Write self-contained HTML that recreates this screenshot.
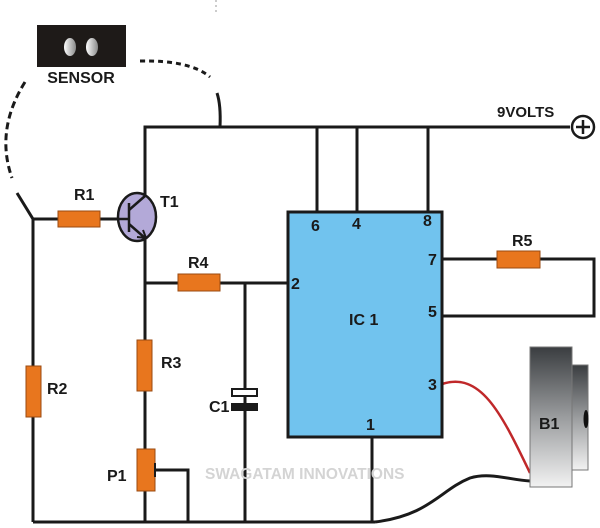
<!DOCTYPE html>
<html><head><meta charset="utf-8"><style>html,body{margin:0;padding:0;background:#fff}svg{display:block}</style></head>
<body>
<svg width="600" height="528" viewBox="0 0 600 528" xmlns="http://www.w3.org/2000/svg" font-family="Liberation Sans, sans-serif" font-weight="bold">
<defs>
<linearGradient id="bz" x1="0" y1="0" x2="0" y2="1"><stop offset="0" stop-color="#3a3d40"/><stop offset="0.5" stop-color="#9a9c9e"/><stop offset="1" stop-color="#f2f2f2"/></linearGradient>
<linearGradient id="ov" x1="0" y1="0" x2="1" y2="0"><stop offset="0" stop-color="#fff"/><stop offset="1" stop-color="#888"/></linearGradient>
</defs>
<g stroke="#1a1a1a" stroke-width="3" fill="none">
<line x1="216" y1="0" x2="216" y2="14" stroke="#999" stroke-width="1" stroke-dasharray="2 3"/>
<path d="M25 82 Q-5 130 12 178" stroke-dasharray="7 4"/>
<path d="M140 61 Q190 60 210 77" stroke-dasharray="5 4"/>
<path d="M217 93 Q221 105 220 127"/>
<polyline points="145,195 145,127 570,127"/>
<line x1="317" y1="127" x2="317" y2="212"/>
<line x1="357" y1="127" x2="357" y2="212"/>
<line x1="428" y1="127" x2="428" y2="212"/>
<polyline points="17,193 33,219 118,219"/>
<line x1="33" y1="219" x2="33" y2="522"/>
<line x1="145" y1="238" x2="145" y2="522"/>
<line x1="33" y1="522" x2="375" y2="522"/>
<line x1="145" y1="283" x2="288" y2="283"/>
<line x1="245" y1="283" x2="245" y2="522"/>
<polyline points="155,470 188,470 188,522"/>
<polyline points="442,259 594,259 594,316 442,316"/>
<line x1="372" y1="437" x2="372" y2="522"/>
<path d="M375 522 C430 515 440 490 470 478 C490 472 510 480 530 481"/>
<path d="M442 384 C480 372 500 410 530 473" stroke="#c0282a" stroke-width="2.5"/>
</g>
<rect x="37" y="25" width="89" height="42" fill="#1e1a18"/>
<ellipse cx="70" cy="47" rx="6" ry="9" fill="url(#ov)"/>
<ellipse cx="92" cy="47" rx="6" ry="9" fill="url(#ov)"/>
<text x="81" y="83" font-size="16" text-anchor="middle" fill="#1a1a1a">SENSOR</text>
<circle cx="583" cy="127" r="11" fill="#fff" stroke="#1a1a1a" stroke-width="2.5"/>
<path d="M576 127h14M583 120v14" stroke="#1a1a1a" stroke-width="2.5"/>
<text x="497" y="117" font-size="15" fill="#1a1a1a">9VOLTS</text>
<rect x="288" y="212" width="154" height="225" fill="#71c3ee" stroke="#1a1a1a" stroke-width="3"/>
<g fill="#e8761e" stroke="#9a4a10" stroke-width="1">
<rect x="58" y="211" width="42" height="16"/>
<rect x="26" y="366" width="15" height="51"/>
<rect x="178" y="274" width="42" height="17"/>
<rect x="137" y="340" width="15" height="51"/>
<rect x="137" y="449" width="18" height="42"/>
<rect x="497" y="251" width="43" height="17"/>
</g>
<line x1="155" y1="463" x2="155" y2="477" stroke="#1a1a1a" stroke-width="2"/>
<rect x="232" y="389" width="25" height="7" fill="#fff" stroke="#1a1a1a" stroke-width="2"/>
<rect x="231" y="403" width="27" height="8" fill="#1a1a1a"/>
<ellipse cx="137" cy="217" rx="19" ry="24" fill="#b3a9d8" stroke="#1a1a1a" stroke-width="2.5"/>
<g stroke="#1a1a1a" stroke-width="2.5" fill="none">
<line x1="129" y1="203" x2="129" y2="232"/>
<line x1="118" y1="219" x2="129" y2="219"/>
<line x1="129" y1="210" x2="145" y2="196"/>
<line x1="129" y1="224" x2="145" y2="238"/>
<path d="M137 237 L146 238 L143 230" stroke-width="2"/>
</g>
<rect x="530" y="347" width="42" height="140" fill="url(#bz)" stroke="#777" stroke-width="1"/>
<rect x="572" y="365" width="16" height="105" fill="url(#bz)" stroke="#777" stroke-width="1"/>
<ellipse cx="586" cy="419" rx="2.5" ry="9" fill="#111"/>
<text x="205" y="479" font-size="15.5" fill="#d4d4d4">SWAGATAM INNOVATIONS</text>
<g fill="#1a1a1a" font-size="16">
<text x="74" y="200">R1</text><text x="160" y="207">T1</text>
<text x="188" y="268">R4</text><text x="291" y="289">2</text>
<text x="161" y="368">R3</text><text x="47" y="394">R2</text>
<text x="209" y="412">C1</text><text x="107" y="481">P1</text>
<text x="311" y="231">6</text><text x="352" y="229">4</text><text x="423" y="226">8</text>
<text x="428" y="265">7</text><text x="428" y="317">5</text><text x="428" y="390">3</text>
<text x="366" y="430">1</text><text x="349" y="325">IC 1</text>
<text x="512" y="246">R5</text><text x="539" y="429">B1</text>
</g>
</svg>
</body></html>
